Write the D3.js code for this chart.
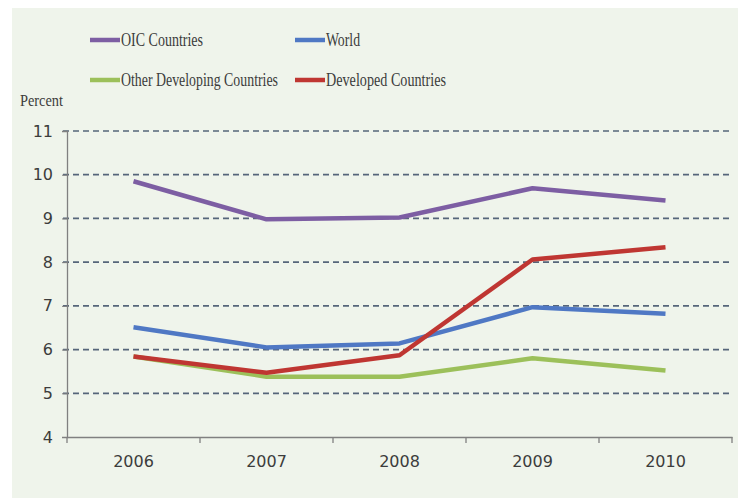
<!DOCTYPE html>
<html>
<head>
<meta charset="utf-8">
<script src="https://cdn.jsdelivr.net/npm/d3@7"></script>
<style>
  body { margin: 0; background: #fff; }
  svg text { fill: #3c3c3c; }
</style>
</head>
<body>
<div id="chart"></div>
<script>
// data
var years = ["2006", "2007", "2008", "2009", "2010"]
var oic = [9.85, 8.98, 9.02, 9.69, 9.41]
var world = [6.51, 6.05, 6.14, 6.97, 6.82]
var otherDev = [5.84, 5.38, 5.38, 5.80, 5.52]
var developed = [5.84, 5.47, 5.87, 8.06, 8.34]
var yTicks = [4, 5, 6, 7, 8, 9, 10, 11]

var series = [
    { name: "OIC Countries", values: oic, color: "#7d5ea3" },
    { name: "World", values: world, color: "#4f78c4" },
    { name: "Other Developing Countries", values: otherDev, color: "#9cc05a" },
    { name: "Developed Countries", values: developed, color: "#bf3632" }
]

var w = 738, h = 498
var plotLeft = 67, plotRight = 732, plotTop = 131, plotBottom = 437

var svg = d3.select("#chart").append("svg")
    .attr("width", w)
    .attr("height", h)

// panel background
svg.append("rect")
    .attr("x", 12).attr("y", 8)
    .attr("width", w - 12).attr("height", h - 8)
    .attr("fill", "#eff4eb")

var x = d3.scaleBand().domain(years).range([plotLeft, plotRight])
var y = d3.scaleLinear().domain([4, 11]).range([plotBottom, plotTop])

// dashed gridlines
svg.selectAll(".grid")
    .data(yTicks.filter(d => d > 4))
    .enter().append("line")
    .attr("class", "grid")
    .attr("x1", plotLeft - 4).attr("x2", plotRight)
    .attr("y1", d => y(d)).attr("y2", d => y(d))
    .attr("stroke", "#56657a")
    .attr("stroke-width", 1.7)
    .attr("stroke-dasharray", "6,4")

// y axis
var yAxis = svg.append("g")
    .attr("transform", "translate(" + plotLeft + ",0)")
    .call(d3.axisLeft(y).tickValues(yTicks).tickFormat(d3.format("d")).tickSize(5).tickPadding(9))
yAxis.select(".domain").attr("stroke", "#808080").attr("stroke-width", 1.3)
yAxis.selectAll(".tick line").attr("stroke", "#808080")
yAxis.selectAll("text")
    .attr("font-family", "DejaVu Sans")
    .attr("font-size", 16)
    .attr("fill", "#444")

// x axis, ticks at band edges
var xAxis = svg.append("g")
    .attr("transform", "translate(0," + plotBottom + ")")
    .call(d3.axisBottom(x).tickSize(0).tickPadding(19))
xAxis.select(".domain").attr("stroke", "#808080").attr("stroke-width", 1.3)
xAxis.selectAll("text")
    .attr("font-family", "DejaVu Sans")
    .attr("font-size", 16)
    .attr("fill", "#444")
xAxis.selectAll(".edge")
    .data(years.map(d => x(d) + x.bandwidth()).concat([plotLeft]))
    .enter().append("line")
    .attr("class", "edge")
    .attr("x1", d => d).attr("x2", d => d)
    .attr("y1", 0).attr("y2", 6)
    .attr("stroke", "#808080")
    .attr("stroke-width", 1.3)

// lines
var line = d3.line()
    .x((d, i) => x(years[i]) + x.bandwidth() / 2)
    .y(d => y(d))

var drawOrder = [2, 1, 3, 0]
svg.selectAll(".serie")
    .data(drawOrder.map(i => series[i]))
    .enter().append("path")
    .attr("class", "serie")
    .attr("d", d => line(d.values))
    .attr("fill", "none")
    .attr("stroke", d => d.color)
    .attr("stroke-width", 4.5)
    .attr("stroke-linejoin", "round")

// legend
var legendPos = [[90, 40], [295, 40], [90, 80], [295, 80]]
var textWidths = [82, 34, 157, 120]
var legend = svg.selectAll(".legend")
    .data(series)
    .enter().append("g")
    .attr("class", "legend")
    .attr("transform", (d, i) => "translate(" + legendPos[i][0] + "," + legendPos[i][1] + ")")

legend.append("line")
    .attr("x1", 0).attr("x2", 30)
    .attr("y1", 0).attr("y2", 0)
    .attr("stroke", d => d.color)
    .attr("stroke-width", 4.5)

legend.append("text")
    .attr("x", 31)
    .attr("y", 6)
    .attr("font-family", "Liberation Serif")
    .attr("font-size", 18)
    .attr("fill", "#2a2a2a")
    .attr("textLength", (d, i) => textWidths[i])
    .attr("lengthAdjust", "spacingAndGlyphs")
    .text(d => d.name)

svg.append("text")
    .attr("x", 20)
    .attr("y", 106)
    .attr("font-family", "Liberation Serif")
    .attr("font-size", 17)
    .attr("fill", "#2a2a2a")
    .attr("textLength", 43)
    .attr("lengthAdjust", "spacingAndGlyphs")
    .text("Percent")
</script>
</body>
</html>
